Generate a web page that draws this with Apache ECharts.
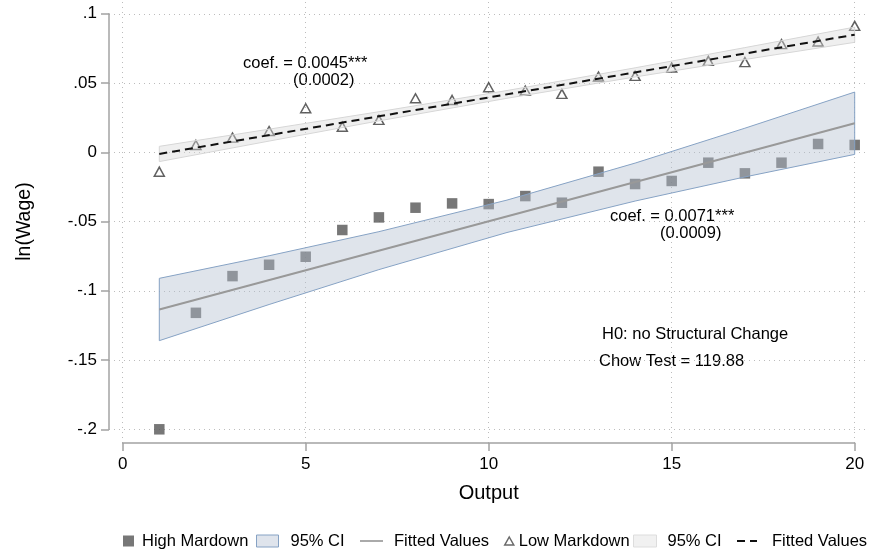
<!DOCTYPE html>
<html><head><meta charset="utf-8">
<script src="https://cdn.jsdelivr.net/npm/echarts@6/dist/echarts.min.js"></script>
<style>html,body{margin:0;padding:0;background:#fff;}#chart{width:869px;height:552px;}</style>
</head><body><div id="chart"></div>
<script>
// ---------- data ----------
const outputX = [1,2,3,4,5,6,7,8,9,10,11,12,13,14,15,16,17,18,19,20];
const highMarkdown = [-0.2000,-0.1159,-0.0894,-0.0812,-0.0754,-0.0561,-0.0470,-0.0400,-0.0369,-0.0374,
                      -0.0316,-0.0364,-0.0140,-0.0229,-0.0207,-0.0075,-0.0152,-0.0075,0.0060,0.0053];
const lowMarkdown  = [-0.0140,0.0053,0.0106,0.0154,0.0318,0.0185,0.0234,0.0390,0.0378,0.0470,
                      0.0446,0.0422,0.0547,0.0552,0.0612,0.0660,0.0651,0.0781,0.0800,0.0913];
const bandX     = [1, 4, 7, 10.5, 14, 17, 20];
const highUpper = [-0.0910,-0.0747,-0.0573,-0.0345,-0.0078,0.0174,0.0435];
const highLower = [-0.1360,-0.1099,-0.0847,-0.0579,-0.0352,-0.0178,-0.0015];
const lowUpper  = [0.0043,0.0167,0.0293,0.0446,0.0610,0.0756,0.0904];
const lowLower  = [-0.0067,0.0081,0.0227,0.0390,0.0544,0.0670,0.0794];
const fitX      = [1, 20];
const highFit   = [-0.1135, 0.0210];
const lowFit    = [-0.0012, 0.0849];
const xTicks = [0,5,10,15,20];
const yTicks = [-0.2,-0.15,-0.1,-0.05,0,0.05,0.1];
const yTickLabels = ['-.2','-.15','-.1','-.05','0','.05','.1'];
const legendLabel = {'High Mardown':'High Mardown','ciHigh':'95% CI','fitHigh':'Fitted Values',
                     'Low Markdown':'Low Markdown','ciLow':'95% CI','fitLow':'Fitted Values'};

// ---------- layout ----------
const FONT = '"Liberation Sans", Arial, Helvetica, sans-serif';
const G = {left:122.7, right:14.3, top:13.8, bottom:122.7};
const AX = {xAxisY:443, yAxisX:109};
const W = 869, H = 552;
const pxPerX = (W - G.left - G.right) / (xTicks[4]-xTicks[0]);
const pxPerY = (H - G.top - G.bottom) / (0.1 - (-0.2));
const GB = {left:AX.yAxisX, right:1, top:0, bottom:H - AX.xAxisY};
const bxMin = 0 - (G.left - GB.left)/pxPerX;
const bxMax = bxMin + (W - GB.left - GB.right)/pxPerX;
const byMax = 0.1 + (G.top - GB.top)/pxPerY;
const byMin = byMax - (H - GB.top - GB.bottom)/pxPerY;

const axisColor = '#a3a3a3';
function bandSeries(name, lo, hi, fill, stroke) {
  return {type:'custom', name, xAxisIndex:0, yAxisIndex:0, z:3, clip:false, silent:true,
    itemStyle:{color:fill, borderColor:stroke, borderWidth:1},
    data: bandX.map((x,i)=>[x, lo[i], hi[i]]),
    encode:{x:0, y:[1,2]},
    renderItem(params, api) {
      if (params.dataIndex !== 0) return null;
      const pts = [];
      for (let i=0;i<bandX.length;i++) pts.push(api.coord([bandX[i], hi[i]]));
      for (let i=bandX.length-1;i>=0;i--) pts.push(api.coord([bandX[i], lo[i]]));
      return {type:'polygon', shape:{points:pts}, style:{fill, stroke, lineWidth:1}};
    }};
}

const legendCfg = [
  {name:'High Mardown', left:123, w:11, h:11, pad:3, icon:'rect'},
  {name:'ciHigh', left:256, w:22, h:12, pad:7, icon:'rect', itemStyle:{color:'#dfe4ec', borderColor:'#86a2c4', borderWidth:1}},
  {name:'fitHigh', left:360, w:23, h:2, pad:6, icon:'rect', itemStyle:{color:'#aaaaaa', borderWidth:0}},
  {name:'Low Markdown', left:504, w:9, h:8, pad:0, icon:'triangle', itemStyle:{borderWidth:1.5, borderColor:'#444444'}},
  {name:'ciLow', left:633, w:23, h:12, pad:6, icon:'rect', itemStyle:{color:'#f1f1f1', borderColor:'#dddddd', borderWidth:1}},
  {name:'fitLow', left:737, w:20, h:2, pad:10, icon:'path://M0,0h8v2h-8z M13,0h7v2h-7z', itemStyle:{color:'#111111', borderWidth:0}}
];

const option = {
  animation:false,
  textStyle:{fontFamily:FONT},
  grid:[
    {left:G.left, right:G.right, top:G.top, bottom:G.bottom},
    {left:GB.left, right:GB.right, top:GB.top, bottom:GB.bottom}
  ],
  xAxis:[
    {type:'value', gridIndex:0, min:0, max:20, interval:5, offset:AX.xAxisY-(H-G.bottom),
     axisLine:{show:true, onZero:false, lineStyle:{color:axisColor, width:1.5}},
     axisTick:{show:true, length:8, lineStyle:{color:axisColor, width:1.5}},
     axisLabel:{margin:13, fontSize:17, color:'#000', fontFamily:FONT, formatter:v=>String(v)},
     splitLine:{show:false},
     name:'Output', nameLocation:'middle', nameGap:40, nameTextStyle:{fontSize:20, color:'#000', fontFamily:FONT}},
    {type:'value', gridIndex:1, min:bxMin, max:bxMax, show:false}
  ],
  yAxis:[
    {type:'value', gridIndex:0, min:-0.2, max:0.1, interval:0.05, offset:G.left-AX.yAxisX,
     axisLine:{show:true, onZero:false, lineStyle:{color:axisColor, width:1.5}},
     axisTick:{show:true, length:8, lineStyle:{color:axisColor, width:1.5}},
     axisLabel:{margin:12, fontSize:17, color:'#000', fontFamily:FONT,
       formatter:v=>{const i=yTicks.findIndex(t=>Math.abs(t-v)<1e-9); return i>=0?yTickLabels[i]:'';}},
     splitLine:{show:false},
     name:'ln(Wage)', nameLocation:'middle', nameGap:74, nameRotate:90, nameTextStyle:{fontSize:19.5, color:'#000', fontFamily:FONT}},
    {type:'value', gridIndex:1, min:byMin, max:byMax, show:false}
  ],
  legend: legendCfg.map(it=>{
    const d = {name:it.name};
    if (it.icon) d.icon = it.icon;
    if (it.itemStyle) d.itemStyle = it.itemStyle;
    return {left:it.left, top:532.5, padding:0, itemWidth:it.w, itemHeight:it.h, selectedMode:false,
      data:[d], formatter:n=>legendLabel[n],
      textStyle:{fontSize:16.5, color:'#000', fontFamily:FONT, padding:[0,0,0,it.pad]}};
  }),
  graphic:[
    {type:'text', x:243, y:63, style:{text:'coef. = 0.0045***', font:'16.5px '+FONT, fill:'#000', verticalAlign:'middle'}},
    {type:'text', x:293, y:80, style:{text:'(0.0002)', font:'16.5px '+FONT, fill:'#000', verticalAlign:'middle'}},
    {type:'text', x:610, y:216, style:{text:'coef. = 0.0071***', font:'16.5px '+FONT, fill:'#000', verticalAlign:'middle'}},
    {type:'text', x:660, y:233, style:{text:'(0.0009)', font:'16.5px '+FONT, fill:'#000', verticalAlign:'middle'}},
    {type:'text', x:602, y:334, style:{text:'H0: no Structural Change', font:'16.5px '+FONT, fill:'#000', verticalAlign:'middle'}},
    {type:'text', x:599, y:361, style:{text:'Chow Test = 119.88', font:'16.5px '+FONT, fill:'#000', verticalAlign:'middle'}}
  ],
  series:[
    {type:'line', xAxisIndex:1, yAxisIndex:1, data:[], silent:true, z:0, symbol:'none',
     markLine:{silent:true, z:0, symbol:['none','none'], label:{show:false}, animation:false,
       lineStyle:{color:'#bcbcbc', width:1, type:[1,4]}, emphasis:{disabled:true},
       data:[...xTicks.map(v=>({xAxis:v})), ...yTicks.map(v=>({yAxis:v}))]}},
    {type:'scatter', name:'High Mardown', xAxisIndex:0, yAxisIndex:0, z:2, clip:false, symbol:'rect', symbolSize:10.5,
     itemStyle:{color:'#555555'}, data:outputX.map((x,i)=>[x, highMarkdown[i]])},
    {type:'scatter', name:'Low Markdown', xAxisIndex:0, yAxisIndex:0, z:2, clip:false, symbol:'triangle', symbolSize:[10,9],
     itemStyle:{color:'rgba(255,255,255,0)', borderColor:'#3a3a3a', borderWidth:1.5}, data:outputX.map((x,i)=>[x, lowMarkdown[i]])},
    bandSeries('ciHigh', highLower, highUpper, 'rgba(178,190,207,0.42)', '#86a2c4'),
    bandSeries('ciLow', lowLower, lowUpper, 'rgba(215,215,215,0.4)', '#d6d6d6'),
    {type:'line', name:'fitHigh', xAxisIndex:0, yAxisIndex:0, z:4, symbol:'none', silent:true,
     itemStyle:{color:'#999999'}, lineStyle:{color:'#999999', width:2}, data:fitX.map((x,i)=>[x, highFit[i]])},
    {type:'line', name:'fitLow', xAxisIndex:0, yAxisIndex:0, z:4, symbol:'none', silent:true,
     itemStyle:{color:'#111111'}, lineStyle:{color:'#111111', width:2, type:[8,5]}, data:fitX.map((x,i)=>[x, lowFit[i]])}
  ]
};
const chart = echarts.init(document.getElementById('chart'));
chart.setOption(option);
</script></body></html>
